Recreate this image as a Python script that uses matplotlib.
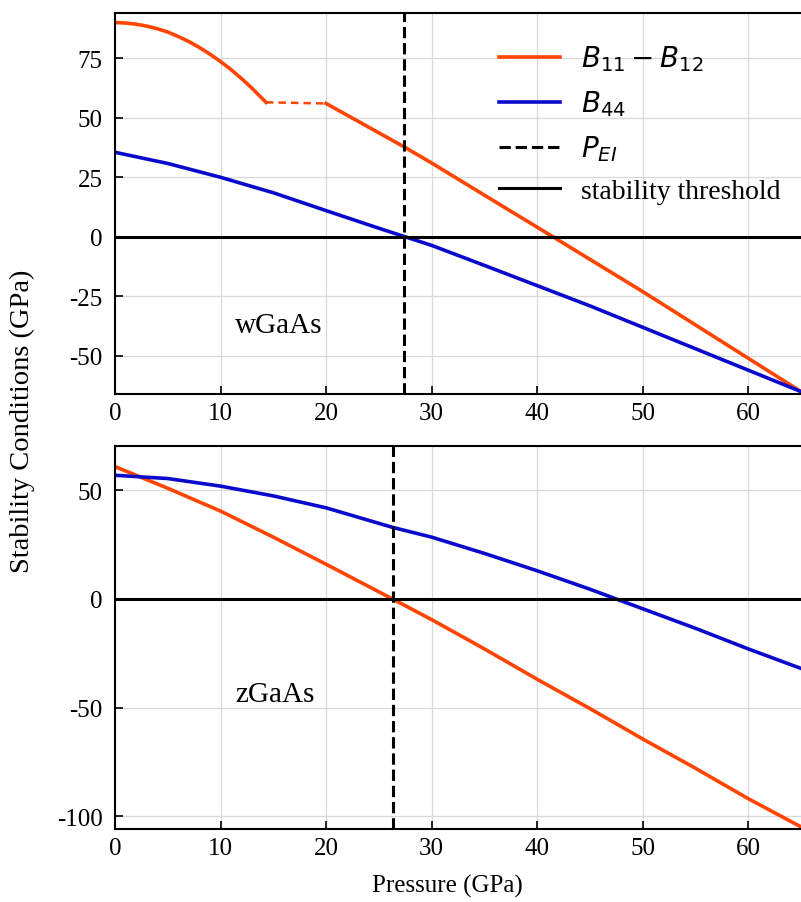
import numpy as np
import matplotlib
matplotlib.use("Agg")
import matplotlib.pyplot as plt

plt.rcParams['font.family'] = ['Liberation Serif', 'DejaVu Serif']
plt.rcParams['mathtext.fontset'] = 'dejavusans'
plt.rcParams['axes.unicode_minus'] = False

# wGaAs (top panel)
w_p_a = [0, 1, 2, 3, 4, 5, 6, 7, 8, 9, 10, 11, 12, 13, 14.3]
w_diff_a = [90, 89.8, 89.3, 88.5, 87.4, 86, 84.1, 82, 79.5, 76.7, 73.6, 70.2, 66.4, 62.3, 56.5]
w_p_gap = [14.3, 20]
w_diff_gap = [56.5, 56]
w_p_b = [20, 27.5, 30, 35, 41.5, 50, 55, 60, 65]
w_diff_b = [56, 37.5, 31, 17.5, 0, -23, -37, -51, -65]
w_p_44 = [0, 5, 10, 15, 20, 25, 27.5, 30, 35, 40, 45, 50, 55, 60, 65]
w_b44 = [35.5, 30.8, 25, 18.5, 11, 3.6, 0, -3.6, -12, -20.5, -29, -38, -47, -56, -65]
w_pei = 27.4

# zGaAs (bottom panel)
z_p = [0, 5, 10, 15, 20, 26.3, 30, 35, 40, 45, 50, 55, 60, 65]
z_diff = [61, 51, 40.5, 28.5, 16, 0, -9.5, -23, -37, -50.5, -64.5, -78, -92, -105]
z_b44 = [57, 55.5, 52, 47.5, 42, 33, 28.5, 21, 13, 4.5, -4.5, -13.5, -23, -32]
z_pei = 26.3

orange = '#ff4500'
blue = '#0a0acd'

fig = plt.figure(figsize=(8.01, 9.03), dpi=100)
ax1 = fig.add_axes([0.1436, 0.5626, 0.8564, 0.4219])
ax2 = fig.add_axes([0.1436, 0.0808, 0.8564, 0.4242])

# top panel
ax1.plot(w_p_a, w_diff_a, color=orange, lw=2.6, label=r'$B_{11}-B_{12}$')
ax1.plot(w_p_gap, w_diff_gap, color=orange, lw=1.8, ls=(0, (3, 2)))
ax1.plot(w_p_b, w_diff_b, color=orange, lw=2.6)
ax1.plot(w_p_44, w_b44, color=blue, lw=2.6, label=r'$B_{44}$')
ax1.axvline(w_pei, color='black', ls='--', lw=2.2, label=r'$P_{EI}$')
ax1.axhline(0, color='black', lw=2.2, label='stability threshold')
ax1.text(15.5, -37, 'wGaAs', ha='center', va='center', fontsize=21)
ax1.set_ylim(-66, 94)
ax1.set_yticks([-50, -25, 0, 25, 50, 75])
ax1.legend(loc='upper right', bbox_to_anchor=(1.0, 0.975), frameon=False,
           fontsize=20, handlelength=2.2, handletextpad=0.75,
           labelspacing=0.55, borderaxespad=0.35)

# bottom panel
ax2.plot(z_p, z_diff, color=orange, lw=2.6)
ax2.plot(z_p, z_b44, color=blue, lw=2.6)
ax2.axvline(z_pei, color='black', ls='--', lw=2.2)
ax2.axhline(0, color='black', lw=2.2)
ax2.text(15.2, -44, 'zGaAs', ha='center', va='center', fontsize=21)
ax2.set_ylim(-106, 70.5)
ax2.set_yticks([-100, -50, 0, 50])
ax2.set_xlabel('Pressure (GPa)', fontsize=18)
ax2.xaxis.set_label_coords(0.485, -0.117)

for ax in (ax1, ax2):
    ax.set_xlim(0, 65)
    ax.set_xticks([0, 10, 20, 30, 40, 50, 60])
    ax.grid(True, color='#d9d9d9', lw=0.9)
    ax.set_axisbelow(True)
    ax.tick_params(direction='in', labelsize=18, length=6, width=1.2)
    ax.tick_params(axis='x', pad=6)
    ax.tick_params(axis='y', pad=9)
    ax.spines['right'].set_visible(False)
    for s in ax.spines.values():
        s.set_linewidth(1.5)

fig.text(0.028, 0.533, 'Stability Conditions (GPa)', rotation=90,
         ha='center', va='center', fontsize=20.5)

fig.savefig('out.png', dpi=100)
